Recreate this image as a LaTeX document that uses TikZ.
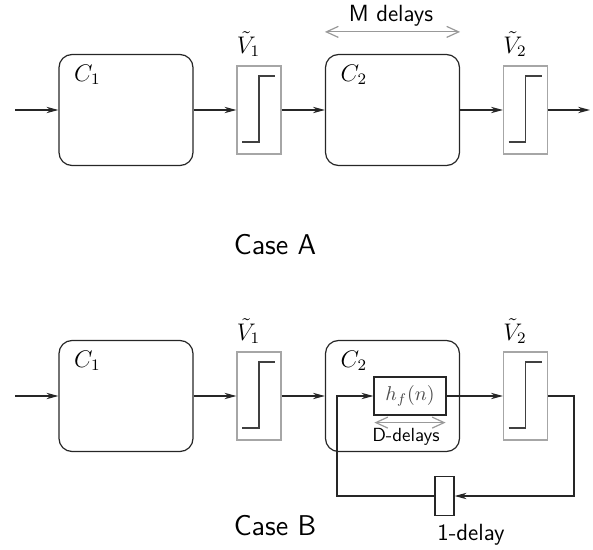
\documentclass[tikz,border=0pt]{standalone}
\usepackage{amsmath}
\usepackage{amssymb}
\usepackage{tikz}
\usetikzlibrary{arrows.meta}
\usetikzlibrary{calc}

\newcommand{\limitstep}[1]{\draw[stepline] ($(#1.center)+(-17,32)$) -- ($(#1.center)+(0,32)$) -- ($(#1.center)+(0,-34)$) -- ($(#1.center)+(16,-34)$);}

\begin{document}
\begin{tikzpicture}[x=0.5pt,y=-0.5pt,
  flow/.style={draw=black!85,line width=0.6pt,-{Stealth[length=6pt,width=3.2pt]}},
  wire/.style={draw=black!85,line width=0.6pt},
  block/.style={draw=black!85,line width=0.6pt,rounded corners=6.5pt,minimum width=67pt,minimum height=55.5pt,inner sep=0pt},
  limiter/.style={draw=black!35,line width=0.6pt,minimum width=22pt,minimum height=44pt,inner sep=0pt},
  stepline/.style={draw=black!75,line width=0.8pt},
  filterbox/.style={draw=black!85,line width=0.6pt,minimum width=36pt,minimum height=19pt,inner sep=0pt,text=black!70,font=\fontsize{10}{12}\selectfont},
  delaybox/.style={draw=black!85,line width=0.6pt,minimum width=9.5pt,minimum height=19.5pt,inner sep=0pt},
  delayspan/.style={draw=black!40,line width=0.6pt,{Straight Barb[length=6pt,width=5.5pt]}-{Straight Barb[length=6pt,width=5.5pt]}},
  mathlbl/.style={inner sep=0pt,font=\fontsize{12}{14}\selectfont},
  capt/.style={inner sep=0pt,font=\sffamily\fontsize{14.3}{17}\selectfont},
  notetext/.style={inner sep=0pt,font=\sffamily\fontsize{11.7}{14}\selectfont},
  smalltext/.style={inner sep=0pt,font=\sffamily\fontsize{9.5}{11}\selectfont}]
\useasboundingbox (0,0) rectangle (593,550);

\node[block] (C1a) at (126,110) {};
\node[limiter] (V1a) at (259,110) {};
\node[block] (C2a) at (392.5,110) {};
\node[limiter] (V2a) at (525.5,110) {};
\coordinate (ina) at (15,110);
\coordinate (outa) at (590,110);
\limitstep{V1a}
\limitstep{V2a}
\draw[flow] (ina) -- (C1a);
\draw[flow] (C1a) -- (V1a);
\draw[flow] (V1a) -- (C2a);
\draw[flow] (C2a) -- (V2a);
\draw[flow] (V2a) -- (outa);
\node[mathlbl] (C1alabel) at ($(C1a.north west)+(29,21)$) {$C_1$};
\node[mathlbl] (C2alabel) at ($(C2a.north west)+(29,21)$) {$C_2$};
\node[mathlbl,anchor=south west] (V1alabel) at ($(V1a.north west)+(0,-8)$) {$\tilde{V}_1$};
\node[mathlbl,anchor=south west] (V2alabel) at ($(V2a.north west)+(0,-8)$) {$\tilde{V}_2$};
\coordinate (mleft) at ($(C2a.north west)+(0,-22)$);
\coordinate (mright) at ($(C2a.north east)+(0,-22)$);
\draw[delayspan] (mleft) -- (mright);
\node[notetext] (mtext) at (391,16) {M delays};
\node[capt] (casea) at (275,245) {Case A};

\node[block] (C1b) at (126,396) {};
\node[limiter] (V1b) at (259,396) {};
\node[block] (C2b) at (392.5,396) {};
\node[limiter] (V2b) at (525.5,396) {};
\node[filterbox] (hf) at (410,396) {$h_f(n)$};
\node[delaybox] (d1) at (444.5,496) {};
\coordinate (inb) at (15,396);
\coordinate (fbr) at (574,396);
\coordinate (fbl) at (337,496);
\limitstep{V1b}
\limitstep{V2b}
\draw[flow] (inb) -- (C1b);
\draw[flow] (C1b) -- (V1b);
\draw[flow] (V1b) -- (C2b);
\draw[flow] (hf) -- (V2b);
\draw[flow] (V2b.east) -- (fbr) |- (d1.east);
\draw[flow] (d1.west) -- (fbl) |- (hf.west);
\node[mathlbl] (C1blabel) at ($(C1b.north west)+(29,21)$) {$C_1$};
\node[mathlbl] (C2blabel) at ($(C2b.north west)+(29,21)$) {$C_2$};
\node[mathlbl,anchor=south west] (V1blabel) at ($(V1b.north west)+(0,-7)$) {$\tilde{V}_1$};
\node[mathlbl,anchor=south west] (V2blabel) at ($(V2b.north west)+(0,-7)$) {$\tilde{V}_2$};
\coordinate (dleft) at ($(hf.south west)+(1,7)$);
\coordinate (dright) at ($(hf.south east)+(-1,7)$);
\draw[delayspan] (dleft) -- (dright);
\node[smalltext] (dtext) at (406,437) {D-delays};
\node[notetext] (d1text) at (471,535) {1-delay};
\node[capt] (caseb) at (275,526) {Case B};
\end{tikzpicture}
\end{document}
